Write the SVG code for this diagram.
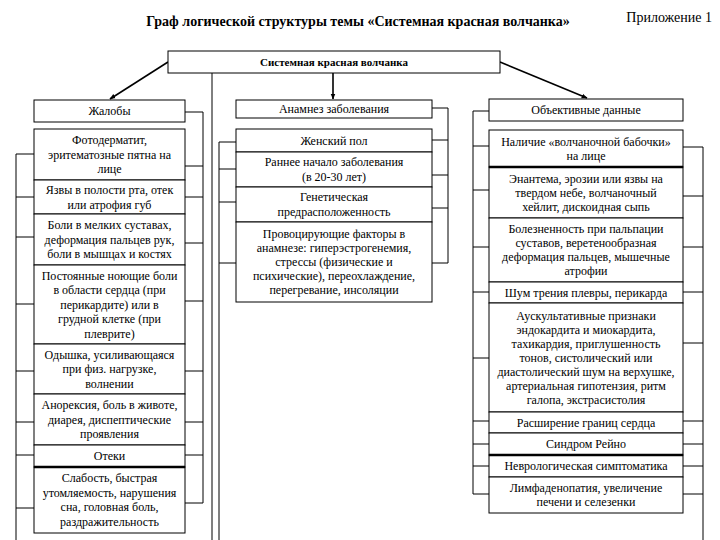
<svg xmlns="http://www.w3.org/2000/svg" width="720" height="540" viewBox="0 0 720 540" font-family="'Liberation Serif', 'Times New Roman', serif">
<defs>
<marker id="ah" viewBox="0 0 10 10" refX="9" refY="5" markerWidth="6" markerHeight="6" orient="auto" markerUnits="userSpaceOnUse"><path d="M0,1 L10,5 L0,9 Z" fill="#000"/></marker>
<style>
.box{fill:#fff;stroke:#000;stroke-width:1}
.thick{stroke:#000;stroke-width:2.5}
.t{font-family:'Liberation Serif','Times New Roman',serif;font-size:12px;text-anchor:middle;fill:#000}
.ln{stroke:#000;stroke-width:1;fill:none}
.arr{stroke:#000;stroke-width:1.6;fill:none;marker-end:url(#ah)}
</style>
</defs>
<rect width="720" height="540" fill="#fff"/>
<text x="358" y="26" font-family="'Liberation Serif', 'Times New Roman', serif" font-size="14" font-weight="bold" text-anchor="middle">Граф логической структуры темы «Системная красная волчанка»</text>
<text x="712" y="22" font-family="'Liberation Serif', 'Times New Roman', serif" font-size="14" text-anchor="end">Приложение 1</text>

<g id="connectors">
<line class="arr" x1="168" y1="62" x2="110" y2="99"/>
<line class="arr" x1="333" y1="73" x2="333" y2="99"/>
<line class="arr" x1="500" y1="62" x2="587" y2="98"/>
<line class="ln" x1="212" y1="73" x2="212" y2="540"/>
<path class="ln" d="M185,112H203V503 M185,166H203 M185,197H203 M185,243H203 M185,301H203 M185,371H203 M185,422H203 M185,455H203 M185,503H203"/>
<path class="ln" d="M16,540V154 M16,154H34 M16,197H34 M16,237H34 M16,304H34 M16,371H34 M16,422H34 M16,455H34 M16,508H34"/>
<path class="ln" d="M432,108H448V263 M432,140H448 M432,175H448 M432,208H448 M432,263H448"/>
<path class="ln" d="M219,540V142 M219,142H236 M219,169H236 M219,202H236 M219,263H236"/>
<path class="ln" d="M489,111H473V494 M473,146H489 M473,190H489 M473,247H489 M473,292H489 M473,358H489 M473,421H489 M473,444H489 M473,466H489 M473,494H489"/>
<path class="ln" d="M683,147H703V540 M683,196H703 M683,247H703 M683,292H703 M683,343H703 M683,421H703 M683,444H703 M683,466H703 M683,494H703"/>
</g>

<g id="root" font-family="'Liberation Serif', 'Times New Roman', serif">
<rect class="box" x="168" y="51" width="332" height="22"/>
<text class="t" x="334" y="66" font-size="11" font-weight="bold" style="font-size:11px;font-weight:bold">Системная красная волчанка</text>
</g>

<g id="complaints">
<rect class="box" x="34" y="100" width="151" height="22"/>
<text class="t" x="109.5" y="115">Жалобы</text>
</g>
<g id="c1"><rect class="box" x="34" y="129" width="151" height="51"/>
<text class="t" x="109.5" y="144">Фотодерматит,</text><text class="t" x="109.5" y="158.5">эритематозные пятна на</text><text class="t" x="109.5" y="173">лице</text></g>
<g id="c2"><rect class="box" x="34" y="180" width="151" height="34"/>
<text class="t" x="109.5" y="194">Язвы в полости рта, отек</text><text class="t" x="109.5" y="208.5">или атрофия губ</text></g>
<g id="c3"><rect class="box" x="34" y="214" width="151" height="51"/>
<text class="t" x="109.5" y="229">Боли в мелких суставах,</text><text class="t" x="109.5" y="243.5">деформация пальцев рук,</text><text class="t" x="109.5" y="258">боли в мышцах и костях</text></g>
<g id="c4"><rect class="box" x="34" y="265" width="151" height="79"/>
<text class="t" x="109.5" y="279.5">Постоянные ноющие боли</text><text class="t" x="109.5" y="294">в области сердца (при</text><text class="t" x="109.5" y="308.5">перикардите) или в</text><text class="t" x="109.5" y="323">грудной клетке (при</text><text class="t" x="109.5" y="337.5">плеврите)</text></g>
<g id="c5"><rect class="box" x="34" y="344" width="151" height="50"/>
<text class="t" x="109.5" y="358.5">Одышка, усиливающаяся</text><text class="t" x="109.5" y="373">при физ. нагрузке,</text><text class="t" x="109.5" y="387.5">волнении</text></g>
<g id="c6"><rect class="box" x="34" y="394" width="151" height="51"/>
<text class="t" x="109.5" y="409">Анорексия, боль в животе,</text><text class="t" x="109.5" y="423.5">диарея, диспептические</text><text class="t" x="109.5" y="438">проявления</text></g>
<g id="c7"><rect class="box" x="34" y="445" width="151" height="22"/>
<text class="t" x="109.5" y="460">Отеки</text></g>
<g id="c8"><rect class="box" x="34" y="467" width="151" height="66"/>
<line class="thick" x1="34" y1="467" x2="185" y2="467"/>
<text class="t" x="109.5" y="482">Слабость, быстрая</text><text class="t" x="109.5" y="496.5">утомляемость, нарушения</text><text class="t" x="109.5" y="511">сна, головная боль,</text><text class="t" x="109.5" y="525.5">раздражительность</text></g>

<g id="anamnesis">
<rect class="box" x="236" y="100" width="196" height="18"/>
<text class="t" x="334" y="113">Анамнез заболевания</text>
</g>
<g id="a1"><rect class="box" x="236" y="129" width="196" height="23"/>
<text class="t" x="334" y="144.5">Женский пол</text></g>
<g id="a2"><rect class="box" x="236" y="152" width="196" height="35"/>
<text class="t" x="334" y="166">Раннее начало заболевания</text><text class="t" x="334" y="180.5">(в 20-30 лет)</text></g>
<g id="a3"><rect class="box" x="236" y="187" width="196" height="35"/>
<text class="t" x="334" y="201">Генетическая</text><text class="t" x="334" y="215.5">предрасположенность</text></g>
<g id="a4"><rect class="box" x="236" y="222" width="196" height="80"/>
<text class="t" x="334" y="238">Провоцирующие факторы в</text><text class="t" x="334" y="252">анамнезе: гиперэстрогенемия,</text><text class="t" x="334" y="266">стрессы (физические и</text><text class="t" x="334" y="280">психические), переохлаждение,</text><text class="t" x="334" y="294">перегревание, инсоляции</text></g>

<g id="objective">
<rect class="box" x="489" y="99" width="194" height="22"/>
<text class="t" x="586" y="114">Объективные данные</text>
</g>
<g id="o1"><rect class="box" x="489" y="130" width="194" height="37"/>
<text class="t" x="586" y="145.5">Наличие «волчаночной бабочки»</text><text class="t" x="586" y="159.5">на лице</text></g>
<g id="o2"><rect class="box" x="489" y="167" width="194" height="51"/>
<line class="thick" x1="489" y1="167" x2="683" y2="167"/>
<text class="t" x="586" y="182.5">Энантема, эрозии или язвы на</text><text class="t" x="586" y="196.5">твердом небе, волчаночный</text><text class="t" x="586" y="210.5">хейлит, дискоидная сыпь</text></g>
<g id="o3"><rect class="box" x="489" y="218" width="194" height="64"/>
<text class="t" x="586" y="233">Болезненность при пальпации</text><text class="t" x="586" y="247">суставов, веретенообразная</text><text class="t" x="586" y="261">деформация пальцев, мышечные</text><text class="t" x="586" y="275">атрофии</text></g>
<g id="o4"><rect class="box" x="489" y="282" width="194" height="21"/>
<text class="t" x="586" y="296.5">Шум трения плевры, перикарда</text></g>
<g id="o5"><rect class="box" x="489" y="303" width="194" height="109"/>
<text class="t" x="586" y="319.5">Аускультативные признаки</text><text class="t" x="586" y="333.5">эндокардита и миокардита,</text><text class="t" x="586" y="347.5">тахикардия, приглушенность</text><text class="t" x="586" y="361.5">тонов, систолический или</text><text class="t" x="586" y="375.5">диастолический шум на верхушке,</text><text class="t" x="586" y="389.5">артериальная гипотензия, ритм</text><text class="t" x="586" y="403.5">галопа, экстрасистолия</text></g>
<g id="o6"><rect class="box" x="489" y="412" width="194" height="21"/>
<text class="t" x="586" y="426.5">Расширение границ сердца</text></g>
<g id="o7"><rect class="box" x="489" y="433" width="194" height="22"/>
<text class="t" x="586" y="448">Синдром Рейно</text></g>
<g id="o8"><rect class="box" x="489" y="455" width="194" height="22"/>
<line class="thick" x1="489" y1="455" x2="683" y2="455"/>
<text class="t" x="586" y="470">Неврологическая симптоматика</text></g>
<g id="o9"><rect class="box" x="489" y="477" width="194" height="36"/>
<text class="t" x="586" y="492">Лимфаденопатия, увеличение</text><text class="t" x="586" y="506">печени и селезенки</text></g>
</svg>
